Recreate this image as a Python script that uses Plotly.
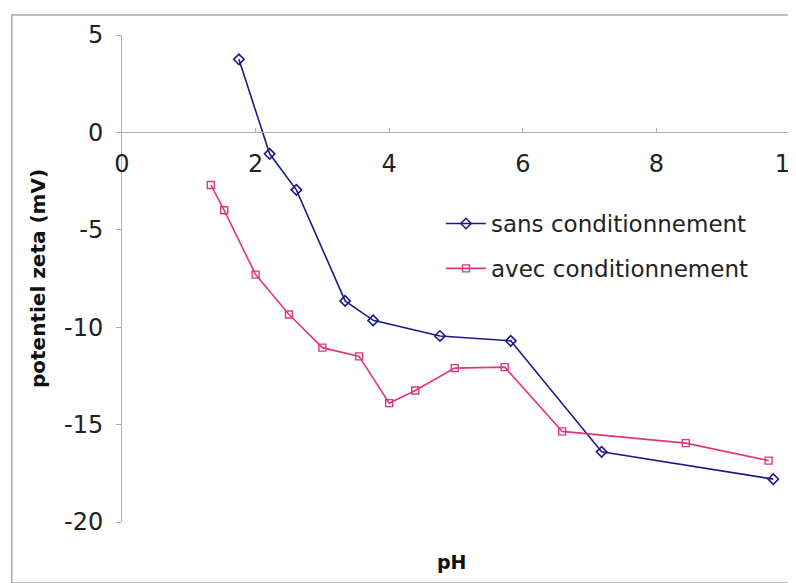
import plotly.graph_objects as go

ph_sans = [1.75, 2.21, 2.61, 3.34, 3.76, 4.76, 5.82, 7.18, 9.75]
zeta_sans = [3.75, -1.1, -2.95, -8.65, -9.65, -10.45, -10.7, -16.4, -17.8]

ph_avec = [1.33, 1.53, 2.0, 2.5, 3.0, 3.55, 4.0, 4.39, 4.98, 5.73, 6.59, 8.44, 9.68]
zeta_avec = [-2.7, -4.0, -7.3, -9.35, -11.05, -11.5, -13.9, -13.25, -12.1, -12.05, -15.35, -15.95, -16.85]

x_ticks = [0, 2, 4, 6, 8, 10]
y_ticks = [-20, -15, -10, -5, 0, 5]

FONT = "DejaVu Sans"
BLUE = "#1c1c86"
PINK = "#e0357f"

fig = go.Figure()
fig.add_trace(go.Scatter(
    x=ph_sans, y=zeta_sans, mode="lines+markers", name="sans conditionnement",
    line=dict(color=BLUE, width=1.6),
    marker=dict(symbol="diamond-open", size=8, color=BLUE, line=dict(width=1.6)),
    legendgroup="a",
))
fig.add_trace(go.Scatter(
    x=ph_avec, y=zeta_avec, mode="lines+markers", name="avec conditionnement",
    line=dict(color=PINK, width=1.6),
    marker=dict(symbol="square-open", size=7, color=PINK, line=dict(width=1.4)),
    legendgroup="b",
))

fig.update_layout(
    width=788, height=575,
    margin=dict(l=114, r=6, t=27, b=61),
    paper_bgcolor="white", plot_bgcolor="white",
    font=dict(family=FONT, size=23, color="#222"),
    showlegend=True,
    legend=dict(
        x=0.4775, y=0.657, xanchor="left", yanchor="top",
        bgcolor="rgba(0,0,0,0)", font=dict(family=FONT, size=23, color="#222"),
        traceorder="grouped", tracegroupgap=12, itemwidth=40,
    ),
    xaxis=dict(
        range=[0, 10], tickvals=x_ticks, ticktext=[str(v) for v in x_ticks],
        anchor="free", position=0.8, automargin=False,
        ticklabeloverflow="allow", ticklabelstandoff=10,
        showline=True, linecolor="#b0b0b0", linewidth=1,
        ticks="inside", ticklen=4, tickcolor="#b0b0b0",
        showgrid=False, zeroline=False,
        tickfont=dict(family=FONT, size=24, color="#222"),
    ),
    yaxis=dict(
        range=[-20, 5], tickvals=y_ticks, ticktext=[str(v) for v in y_ticks],
        automargin=False, ticklabelstandoff=8,
        showline=True, linecolor="#b0b0b0", linewidth=1,
        ticks="outside", ticklen=5, tickcolor="#b0b0b0",
        showgrid=False, zeroline=False,
        tickfont=dict(family=FONT, size=24, color="#222"),
        title=dict(text="<b>potentiel zeta (mV)</b>", font=dict(family=FONT, size=20, color="#111"), standoff=12),
    ),
)

fig.add_annotation(
    text="<b>pH</b>", xref="paper", yref="paper", x=0.494, y=-0.082,
    showarrow=False, font=dict(family=FONT, size=19, color="#111"),
    xanchor="center", yanchor="middle",
)

# chart area border
fig.add_shape(
    type="rect", xref="paper", yref="paper",
    x0=-0.165, x1=1.03, y0=-0.125, y1=1.041,
    line=dict(color="#a8a8a8", width=1.5), fillcolor="rgba(0,0,0,0)", layer="below",
)

fig.write_html("out.html")
